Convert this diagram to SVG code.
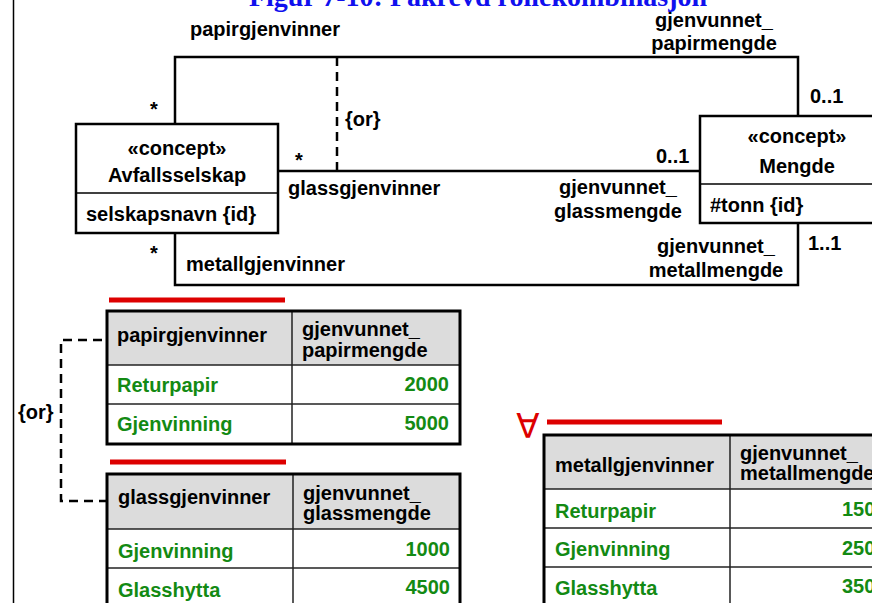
<svg xmlns="http://www.w3.org/2000/svg" width="872" height="603" viewBox="0 0 872 603">
  <style>
    .t { font-family: "Liberation Sans", Arial, sans-serif; font-weight: bold; font-size: 20px; fill: #000; }
    .g { font-family: "Liberation Sans", Arial, sans-serif; font-weight: bold; font-size: 20px; fill: #138a13; }
    .mid { text-anchor: middle; }
    .end { text-anchor: end; }
    .line { fill: none; stroke: #000; stroke-width: 2.5; }
    .box { fill: #fff; stroke: #000; stroke-width: 2.5; }
    .div { stroke: #000; stroke-width: 1.5; }
    .dash { fill: none; stroke: #000; stroke-width: 2.5; stroke-dasharray: 9 6; }
    .hdr { fill: #dcdcdc; }
    .grid { stroke: #222; stroke-width: 1.5; }
    .frame { fill: none; stroke: #000; stroke-width: 3; }
    .red { stroke: #dd0000; stroke-width: 5; }
  </style>
  <rect x="0" y="0" width="872" height="603" fill="#fff"/>
  <!-- page edge -->
  <line x1="13.5" y1="0" x2="13.5" y2="603" stroke="#000" stroke-width="1.5"/>

  <!-- title -->
  <text x="478" y="6" text-anchor="middle" font-family="Liberation Serif, 'Times New Roman', serif" font-weight="bold" font-size="28" fill="#1010ee">Figur 7-10: Påkrevd rollekombinasjon</text>

  <!-- associations -->
  <g id="connectors">
    <polyline class="line" points="175,124 175,57 798,57 798,116"/>
    <line class="line" x1="278" y1="171" x2="700" y2="171"/>
    <polyline class="line" points="798,223 798,285 175,285 175,233"/>
    <line class="dash" x1="337" y1="57" x2="337" y2="171"/>
    <text class="t" x="345" y="126">{or}</text>

    <text class="t" x="190" y="36">papirgjenvinner</text>
    <text class="t mid" x="714" y="27">gjenvunnet_</text>
    <text class="t mid" x="714" y="50">papirmengde</text>
    <text class="t" x="150" y="116">*</text>
    <text class="t" x="810" y="103">0..1</text>

    <text class="t" x="295" y="167">*</text>
    <text class="t" x="288" y="195">glassgjenvinner</text>
    <text class="t" x="656" y="163">0..1</text>
    <text class="t mid" x="618" y="194">gjenvunnet_</text>
    <text class="t mid" x="618" y="218">glassmengde</text>

    <text class="t" x="150" y="260">*</text>
    <text class="t" x="186" y="271">metallgjenvinner</text>
    <text class="t" x="808" y="250">1..1</text>
    <text class="t mid" x="716" y="253">gjenvunnet_</text>
    <text class="t mid" x="716" y="277">metallmengde</text>
  </g>

  <g id="avfallsselskap">
    <rect class="box" x="76" y="124" width="202" height="109"/>
    <line class="div" x1="76" y1="193" x2="278" y2="193"/>
    <text class="t mid" x="177" y="155">«concept»</text>
    <text class="t mid" x="177" y="182">Avfallsselskap</text>
    <text class="t" x="86" y="221">selskapsnavn {id}</text>
  </g>

  <g id="mengde">
    <rect class="box" x="700" y="116" width="200" height="107"/>
    <line class="div" x1="700" y1="184" x2="900" y2="184"/>
    <text class="t mid" x="797" y="143">«concept»</text>
    <text class="t mid" x="797" y="173">Mengde</text>
    <text class="t" x="710" y="212">#tonn {id}</text>
  </g>

  <!-- papir table -->
  <g id="papir-table">
    <line class="red" x1="109" y1="300" x2="285" y2="300"/>
    <rect class="hdr" x="107" y="311" width="353" height="54"/>
    <line class="grid" x1="107" y1="365" x2="460" y2="365"/>
    <line class="grid" x1="107" y1="404" x2="460" y2="404"/>
    <line class="grid" x1="292" y1="311" x2="292" y2="444"/>
    <rect class="frame" x="107" y="311" width="353" height="133"/>
    <text class="t" x="117" y="342">papirgjenvinner</text>
    <text class="t" x="302" y="336">gjenvunnet_</text>
    <text class="t" x="302" y="357">papirmengde</text>
    <text class="g" x="117" y="392">Returpapir</text>
    <text class="g end" x="449" y="391">2000</text>
    <text class="g" x="117" y="431">Gjenvinning</text>
    <text class="g end" x="449" y="430">5000</text>
  </g>

  <!-- or-constraint between tables -->
  <g id="or-constraint">
    <polyline class="dash" points="102,340 61,340 61,501 107,501"/>
    <text class="t" x="18" y="419" font-size="18">{or}</text>
  </g>

  <!-- glass table -->
  <g id="glass-table">
    <line class="red" x1="110" y1="462" x2="286" y2="462"/>
    <rect class="hdr" x="107" y="474" width="353" height="55"/>
    <line class="grid" x1="107" y1="529" x2="460" y2="529"/>
    <line class="grid" x1="107" y1="568" x2="460" y2="568"/>
    <line class="grid" x1="293" y1="474" x2="293" y2="610"/>
    <rect class="frame" x="107" y="474" width="353" height="140"/>
    <text class="t" x="118" y="504">glassgjenvinner</text>
    <text class="t" x="303" y="500">gjenvunnet_</text>
    <text class="t" x="303" y="520">glassmengde</text>
    <text class="g" x="118" y="558">Gjenvinning</text>
    <text class="g end" x="450" y="556">1000</text>
    <text class="g" x="118" y="597">Glasshytta</text>
    <text class="g end" x="450" y="594">4500</text>
  </g>

  <!-- metall table -->
  <g id="metall-table">
    <text x="528" y="438" text-anchor="middle" font-family="'Liberation Sans', 'DejaVu Sans', sans-serif" font-size="34" fill="#dd0000">∀</text>
    <line class="red" x1="547" y1="422" x2="722" y2="422"/>
    <rect class="hdr" x="544" y="435" width="340" height="54"/>
    <line class="grid" x1="544" y1="489" x2="884" y2="489"/>
    <line class="grid" x1="544" y1="528" x2="884" y2="528"/>
    <line class="grid" x1="544" y1="567" x2="884" y2="567"/>
    <line class="grid" x1="730" y1="435" x2="730" y2="610"/>
    <rect class="frame" x="544" y="435" width="340" height="180"/>
    <text class="t" x="555" y="472">metallgjenvinner</text>
    <text class="t" x="740" y="460">gjenvunnet_</text>
    <text class="t" x="740" y="480">metallmengde</text>
    <text class="g" x="555" y="518">Returpapir</text>
    <text class="g" x="842" y="516">150</text>
    <text class="g" x="555" y="556">Gjenvinning</text>
    <text class="g" x="842" y="555">250</text>
    <text class="g" x="555" y="595">Glasshytta</text>
    <text class="g" x="842" y="593">350</text>
  </g>
</svg>
